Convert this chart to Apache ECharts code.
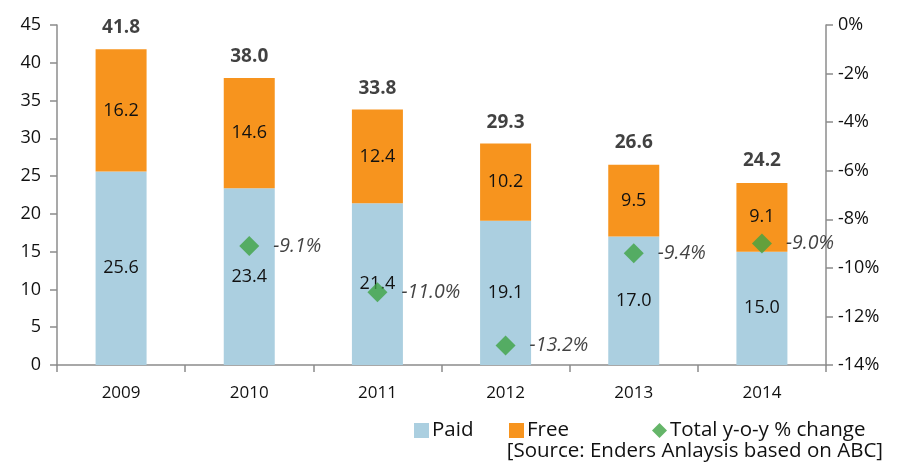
<!DOCTYPE html>
<html>
<head>
<meta charset="utf-8">
<script src="https://cdn.jsdelivr.net/npm/echarts@6/dist/echarts.min.js"></script>
<style>
  html, body { margin: 0; padding: 0; background: #fff; }
  #chart { width: 901px; height: 466px; }
</style>
</head>
<body>
<div id="chart"></div>
<script>
// data
var years = ["2009", "2010", "2011", "2012", "2013", "2014"];
var paid = [25.6, 23.4, 21.4, 19.1, 17.0, 15.0];
var free = [16.2, 14.6, 12.4, 10.2, 9.5, 9.1];
var totals = [41.8, 38.0, 33.8, 29.3, 26.6, 24.2];
var yoy = [null, -9.1, -11.0, -13.2, -9.4, -9.0];

var FONT = "Open Sans";
var TXT = "#111";
var AXIS_COLOR = "#8c8c8c";

var chart = echarts.init(document.getElementById("chart"));

function legendAt(left, name, icon) {
  return {
    left: left, top: 415, itemWidth: 15, itemHeight: 15, itemGap: 0,
    textStyle: { fontSize: 20.5, color: TXT, fontFamily: FONT, padding: [0, 0, 0, -2] },
    data: [{ name: name, icon: icon }]
  };
}

chart.setOption({
  animation: false,
  textStyle: { fontFamily: FONT },
  grid: { left: 57, right: 75, top: 25, bottom: 101 },
  legend: [
    legendAt(409, "Paid", "rect"),
    legendAt(504, "Free", "rect"),
    legendAt(647, "Total y-o-y % change", "diamond")
  ],
  graphic: [
    {
      type: "text",
      right: 18,
      top: 441,
      style: {
        text: "[Source: Enders Anlaysis based on ABC]",
        fontSize: 20.5,
        fontFamily: FONT,
        fill: TXT
      }
    }
  ],
  xAxis: {
    type: "category",
    data: years,
    axisLine: { lineStyle: { color: AXIS_COLOR, width: 1.5 } },
    axisTick: { show: true, length: 7, lineStyle: { color: AXIS_COLOR, width: 1.5 } },
    axisLabel: { fontSize: 17, color: TXT, margin: 20 }
  },
  yAxis: [
    {
      type: "value",
      min: 0,
      max: 45,
      interval: 5,
      splitLine: { show: false },
      axisLine: { show: true, lineStyle: { color: AXIS_COLOR, width: 1.5 } },
      axisTick: { show: true, length: 7, lineStyle: { color: AXIS_COLOR, width: 1.5 } },
      axisLabel: { fontSize: 18, color: TXT, margin: 16 }
    },
    {
      type: "value",
      position: "right",
      min: -14,
      max: 0,
      interval: 2,
      splitLine: { show: false },
      axisLine: { show: true, lineStyle: { color: AXIS_COLOR, width: 1.5 } },
      axisTick: { show: true, length: 7, lineStyle: { color: AXIS_COLOR, width: 1.5 } },
      axisLabel: { fontSize: 18, color: TXT, margin: 12, formatter: "{value}%" }
    }
  ],
  series: [
    {
      name: "Paid",
      type: "bar",
      stack: "total",
      barWidth: 51,
      itemStyle: { color: "#abcfe0" },
      label: {
        show: true,
        position: "inside",
        fontSize: 18,
        color: TXT,
        formatter: function (p) { return p.value.toFixed(1); }
      },
      data: paid
    },
    {
      name: "Free",
      type: "bar",
      stack: "total",
      barWidth: 51,
      itemStyle: { color: "#f7941e" },
      label: {
        show: true,
        position: "inside",
        fontSize: 18,
        color: TXT,
        formatter: function (p) { return p.value.toFixed(1); }
      },
      data: free
    },
    {
      name: "totals",
      type: "scatter",
      symbolSize: 0,
      silent: true,
      label: {
        show: true,
        position: "top",
        distance: 12,
        fontSize: 19,
        fontWeight: "bold",
        color: TXT,
        formatter: function (p) { return p.value.toFixed(1); }
      },
      data: totals,
      z: 5
    },
    {
      name: "Total y-o-y % change",
      type: "scatter",
      yAxisIndex: 1,
      symbol: "diamond",
      symbolSize: 20,
      itemStyle: { color: "#3fa243" },
      label: {
        show: true,
        position: "right",
        distance: 14,
        fontSize: 19.5,
        fontStyle: "italic",
        color: TXT,
        formatter: function (p) { return p.value.toFixed(1) + "%"; }
      },
      data: yoy,
      z: 6
    }
  ]
});
</script>
</body>
</html>
